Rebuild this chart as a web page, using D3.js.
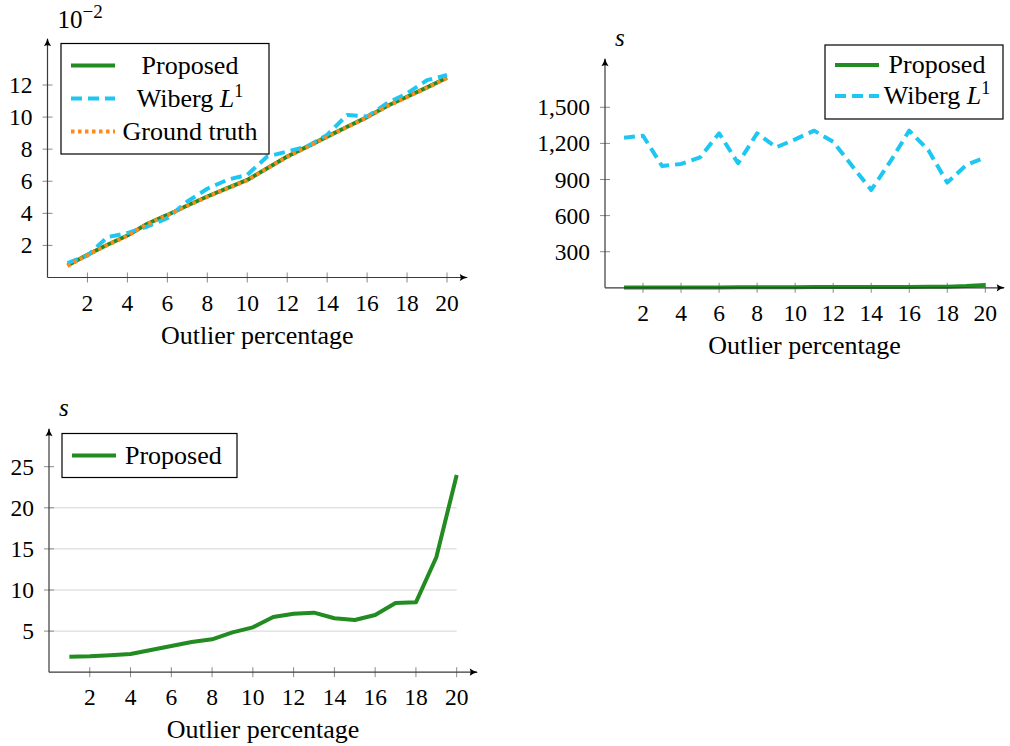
<!DOCTYPE html>
<html>
<head>
<meta charset="utf-8">
<script src="https://cdn.jsdelivr.net/npm/d3@7"></script>
<style>
  body { margin: 0; background: #fff; }
  svg { display: block; }
  text { font-family: "Liberation Serif", "Times New Roman", serif; fill: #000; }
</style>
</head>
<body>
<svg id="chart" width="1010" height="746"></svg>
<script>
// outlier percentage 1..20
const outliers = d3.range(1, 21);

// error (x 10^-2)
const errProposed = [0.75, 1.42, 2.04, 2.62, 3.35, 3.9, 4.49, 5.05, 5.57, 6.08, 6.81, 7.54, 8.16, 8.78, 9.4, 10.0, 10.69, 11.27, 11.85, 12.45];
const errWiberg = [0.9, 1.36, 2.52, 2.77, 3.18, 3.7, 4.74, 5.53, 6.09, 6.4, 7.54, 7.85, 8.16, 8.89, 10.13, 10.03, 10.86, 11.48, 12.3, 12.62];
const errTruth = [0.72, 1.4, 2.03, 2.6, 3.33, 3.88, 4.47, 5.03, 5.55, 6.06, 6.8, 7.52, 8.14, 8.76, 9.38, 9.98, 10.67, 11.25, 11.83, 12.43];

// runtime (s)
const timeProposed = [1.89, 1.93, 2.05, 2.21, 2.7, 3.19, 3.67, 4.0, 4.85, 5.46, 6.72, 7.12, 7.24, 6.56, 6.35, 6.96, 8.42, 8.5, 13.98, 24.0];
const timeWiberg = [1247, 1264, 1012, 1029, 1084, 1284, 1035, 1284, 1167, 1234, 1306, 1214, 1012, 813, 1048, 1306, 1145, 874, 1020, 1084];

const xTicks = [2, 4, 6, 8, 10, 12, 14, 16, 18, 20];
const yTicksErr = [2, 4, 6, 8, 10, 12];
const yTicksTime = [300, 600, 900, 1200, 1500];
const yTicksTimeZoom = [5, 10, 15, 20, 25];

const GREEN = "#228b22";
const CYAN = "#1ec6f2";
const ORANGE = "#ff8a1c";

const styles = {
  proposed: { color: GREEN, dash: null, label: "Proposed" },
  wiberg: { color: CYAN, dash: "11 6", label: "Wiberg" },
  truth: { color: ORANGE, dash: "3.5 3.5", label: "Ground truth" },
};

const svg = d3.select("#chart");
const defs = svg.append("defs");
defs.append("marker")
  .attr("id", "arrow")
  .attr("viewBox", "0 0 10 10")
  .attr("refX", 9).attr("refY", 5)
  .attr("markerWidth", 9).attr("markerHeight", 9)
  .attr("markerUnits", "userSpaceOnUse")
  .attr("orient", "auto")
  .append("path")
  .attr("d", "M1,1 Q5,4 10,5 Q5,6 1,9 Q3,5 1,1 Z")
  .attr("fill", "#000");

const drawPanel = (cfg) => {
  const x = d3.scaleLinear().domain([0, 20]).range([cfg.left, cfg.right]);
  const y = d3.scaleLinear().domain([0, cfg.yMax]).range([cfg.bottom, cfg.yTop]);
  const g = svg.append("g");

  // grid
  if (cfg.grid) {
    g.append("g").selectAll("line")
      .data(cfg.grid)
      .join("line")
      .attr("x1", x(0)).attr("x2", x(20))
      .attr("y1", (d) => y(d)).attr("y2", (d) => y(d))
      .attr("stroke", "#d4d4d4").attr("stroke-width", 1);
  }

  // ticks
  g.append("g").selectAll("line")
    .data(xTicks)
    .join("line")
    .attr("x1", (d) => x(d)).attr("x2", (d) => x(d))
    .attr("y1", cfg.bottom - 5).attr("y2", cfg.bottom + 5)
    .attr("stroke", "#8a8a8a").attr("stroke-width", 1);
  g.append("g").selectAll("line")
    .data(cfg.yTicks)
    .join("line")
    .attr("x1", cfg.left - 5).attr("x2", cfg.left + 5)
    .attr("y1", (d) => y(d)).attr("y2", (d) => y(d))
    .attr("stroke", "#8a8a8a").attr("stroke-width", 1);

  // tick labels
  g.append("g").selectAll("text")
    .data(xTicks)
    .join("text")
    .attr("x", (d) => x(d))
    .attr("y", cfg.bottom + 33)
    .attr("text-anchor", "middle")
    .style("font-size", "23.5px")
    .text((d) => d);
  g.append("g").selectAll("text")
    .data(cfg.yTicks)
    .join("text")
    .attr("x", cfg.left - 15)
    .attr("y", (d) => y(d) + 8)
    .attr("text-anchor", "end")
    .style("font-size", "23.5px")
    .text((d) => cfg.yFormat(d));

  // series
  const line = d3.line().x((d, i) => x(outliers[i])).y((d) => y(d));
  cfg.series.forEach((s) => {
    const st = styles[s.key];
    g.append("path")
      .datum(s.values)
      .attr("d", line)
      .attr("fill", "none")
      .attr("stroke", st.color)
      .attr("stroke-width", 4)
      .attr("stroke-linejoin", "round")
      .attr("stroke-dasharray", st.dash);
  });

  // axes
  g.append("line")
    .attr("x1", cfg.left).attr("x2", cfg.arrowRight)
    .attr("y1", cfg.bottom).attr("y2", cfg.bottom)
    .attr("stroke", "#3a3a3a").attr("stroke-width", 1.2)
    .attr("marker-end", "url(#arrow)");
  g.append("line")
    .attr("x1", cfg.left).attr("x2", cfg.left)
    .attr("y1", cfg.bottom).attr("y2", cfg.arrowTop)
    .attr("stroke", "#3a3a3a").attr("stroke-width", 1.2)
    .attr("marker-end", "url(#arrow)");

  g.append("text")
    .attr("x", (cfg.left + cfg.arrowRight) / 2)
    .attr("y", cfg.bottom + 66)
    .attr("text-anchor", "middle")
    .style("font-size", "26px")
    .text("Outlier percentage");

  // unit label
  if (cfg.unit === "s") {
    g.append("text")
      .attr("x", cfg.left + 10).attr("y", cfg.arrowTop - 13)
      .style("font-size", "25px").style("font-style", "italic")
      .text("s");
  } else {
    const t = g.append("text")
      .attr("x", cfg.left + 10).attr("y", cfg.arrowTop - 11)
      .style("font-size", "25px");
    t.append("tspan").text("10");
    t.append("tspan").attr("dy", -10).style("font-size", "19px").text("\u22122");
  }

  // legend
  const lg = cfg.legend;
  g.append("rect")
    .attr("x", lg.x).attr("y", lg.y)
    .attr("width", lg.w).attr("height", lg.h)
    .attr("fill", "#fff").attr("stroke", "#000").attr("stroke-width", 1.2);
  cfg.series.forEach((s, i) => {
    const st = styles[s.key];
    const yy = lg.y + lg.first + i * lg.step;
    g.append("line")
      .attr("x1", lg.x + 10).attr("x2", lg.x + 54)
      .attr("y1", yy).attr("y2", yy)
      .attr("stroke", st.color).attr("stroke-width", 4)
      .attr("stroke-dasharray", st.dash);
    const t = g.append("text")
      .attr("x", lg.textX).attr("y", yy + 8)
      .attr("text-anchor", lg.anchor)
      .style("font-size", "26px");
    t.append("tspan").text(st.label);
    if (s.key === "wiberg") {
      t.append("tspan").text(" ");
      t.append("tspan").style("font-style", "italic").text("L");
      t.append("tspan").attr("dy", -10).style("font-size", "18px").text("1");
    }
  });
};

drawPanel({
  left: 47.5, right: 447, bottom: 277.5, yTop: 85, yMax: 12, arrowTop: 39, arrowRight: 467,
  yTicks: yTicksErr, yFormat: (d) => d, unit: "exp",
  series: [
    { key: "proposed", values: errProposed },
    { key: "wiberg", values: errWiberg },
    { key: "truth", values: errTruth },
  ],
  legend: { x: 61, y: 43.5, w: 208, h: 110.5, first: 22, step: 33, textX: 190, anchor: "middle" },
});

drawPanel({
  left: 605, right: 985.3, bottom: 287.8, yTop: 107.3, yMax: 1500, arrowTop: 59, arrowRight: 1004,
  yTicks: yTicksTime, yFormat: d3.format(","), unit: "s",
  series: [
    { key: "proposed", values: timeProposed },
    { key: "wiberg", values: timeWiberg },
  ],
  legend: { x: 825, y: 45, w: 178, h: 74, first: 20, step: 31, textX: 937, anchor: "middle" },
});

drawPanel({
  left: 49, right: 456.7, bottom: 672.2, yTop: 466.7, yMax: 25, arrowTop: 429, arrowRight: 477,
  yTicks: yTicksTimeZoom, yFormat: (d) => d, unit: "s", grid: [5, 10, 15, 20],
  series: [
    { key: "proposed", values: timeProposed },
  ],
  legend: { x: 62, y: 433.5, w: 175, h: 44, first: 22, step: 33, textX: 125, anchor: "start" },
});
</script>
</body>
</html>
